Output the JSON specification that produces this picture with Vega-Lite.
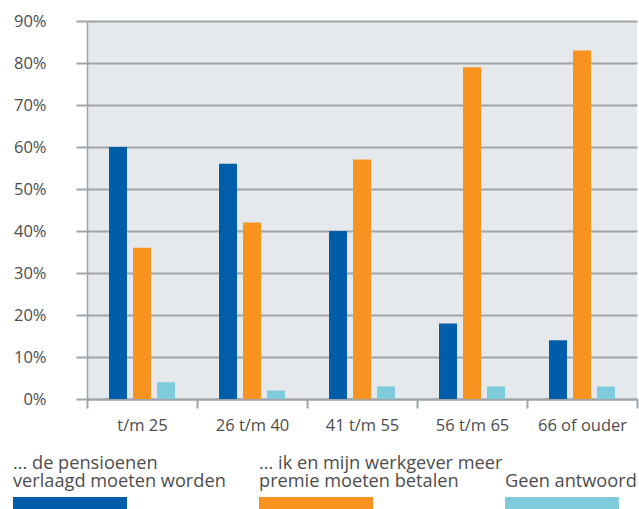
{
  "$schema": "https://vega.github.io/schema/vega-lite/v6.json",
  "padding": {"left": 13, "top": 13, "right": 0, "bottom": 0},
  "config": {"font": "Open Sans", "view": {"stroke": null}},
  "spacing": 20,
  "vconcat": [
    {
      "width": 550,
      "height": 378,
      "view": {"fill": "#e6e9ec", "stroke": null},
      "data": {"values": [
        {"age": "t/m 25", "series": "pensioenen", "value": 60},
        {"age": "t/m 25", "series": "premie", "value": 36},
        {"age": "t/m 25", "series": "geen", "value": 4},
        {"age": "26 t/m 40", "series": "pensioenen", "value": 56},
        {"age": "26 t/m 40", "series": "premie", "value": 42},
        {"age": "26 t/m 40", "series": "geen", "value": 2},
        {"age": "41 t/m 55", "series": "pensioenen", "value": 40},
        {"age": "41 t/m 55", "series": "premie", "value": 57},
        {"age": "41 t/m 55", "series": "geen", "value": 3},
        {"age": "56 t/m 65", "series": "pensioenen", "value": 18},
        {"age": "56 t/m 65", "series": "premie", "value": 79},
        {"age": "56 t/m 65", "series": "geen", "value": 3},
        {"age": "66 of ouder", "series": "pensioenen", "value": 14},
        {"age": "66 of ouder", "series": "premie", "value": 83},
        {"age": "66 of ouder", "series": "geen", "value": 3}
      ]},
      "mark": {"type": "bar"},
      "encoding": {
        "x": {
          "field": "age", "type": "nominal",
          "sort": ["t/m 25", "26 t/m 40", "41 t/m 55", "56 t/m 65", "66 of ouder"],
          "scale": {"paddingInner": 0, "paddingOuter": 0},
          "axis": {"title": null, "labelAngle": 0, "tickBand": "extent", "tickSize": 9, "tickColor": "#9ea4a8", "tickWidth": 2, "domainColor": "#9ea4a8", "domainWidth": 2, "labelFontSize": 16.5, "labelColor": "#4d4d4d", "labelPadding": 9}
        },
        "xOffset": {
          "field": "series", "type": "nominal",
          "sort": ["pensioenen", "premie", "geen"],
          "scale": {"paddingInner": 0.25, "paddingOuter": 0.917}
        },
        "y": {
          "field": "value", "type": "quantitative",
          "scale": {"domain": [0, 90]},
          "axis": {"title": null, "values": [0, 10, 20, 30, 40, 50, 60, 70, 80, 90], "labelExpr": "datum.value + '%'", "grid": true, "gridColor": "#9ea4a8", "gridWidth": 2, "tickSize": 11, "tickColor": "#9ea4a8", "tickWidth": 2, "domain": true, "domainColor": "#9ea4a8", "domainWidth": 1.5, "labelFontSize": 16.5, "labelColor": "#4d4d4d", "labelPadding": 30}
        },
        "color": {
          "field": "series", "type": "nominal",
          "scale": {"domain": ["pensioenen", "premie", "geen"], "range": ["#005da9", "#f7931e", "#7ecbdc"]},
          "legend": null
        }
      }
    },
    {
      "width": 606,
      "height": 13,
      "data": {"values": [
        {"series": "pensioenen", "label": "... de pensioenen\nverlaagd moeten worden"},
        {"series": "premie", "label": "... ik en mijn werkgever meer\npremie moeten betalen"},
        {"series": "geen", "label": "\nGeen antwoord"}
      ]},
      "encoding": {
        "x": {"field": "series", "type": "nominal", "sort": ["pensioenen", "premie", "geen"], "scale": {"paddingInner": 0.5366, "paddingOuter": 0}, "axis": null}
      },
      "layer": [
        {
          "mark": {"type": "bar", "xOffset": -74},
          "encoding": {
            "color": {"field": "series", "type": "nominal", "scale": {"domain": ["pensioenen", "premie", "geen"], "range": ["#005da9", "#f7931e", "#7ecbdc"]}, "legend": null}
          }
        },
        {
          "mark": {"type": "text", "align": "left", "baseline": "top", "dx": -74, "dy": -48.5, "fontSize": 18.2, "lineHeight": 18, "lineBreak": "\n", "color": "#4d4d4d"},
          "encoding": {
            "x": {"field": "series", "type": "nominal", "sort": ["pensioenen", "premie", "geen"], "bandPosition": 0},
            "text": {"field": "label"}
          }
        }
      ]
    }
  ]
}
